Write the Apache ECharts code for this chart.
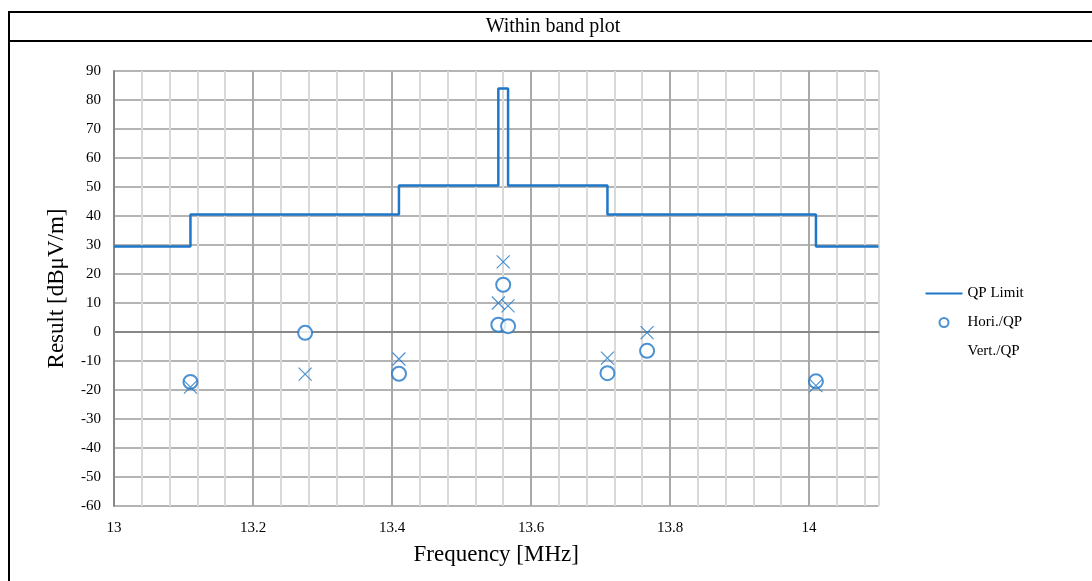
<!DOCTYPE html>
<html>
<head>
<meta charset="utf-8">
<script src="https://cdn.jsdelivr.net/npm/echarts@6/dist/echarts.min.js"></script>
<style>
  html, body { margin: 0; padding: 0; background: #fff; }
  #main { width: 1092px; height: 581px; }
</style>
</head>
<body>
<div id="main"></div>
<script>
// QP limit (step changes at these frequencies)
var limitFreq  = [13.0, 13.11, 13.41, 13.553, 13.567, 13.71, 14.01, 14.1];
var limitLevel = [29.5, 40.5, 50.5, 84.0, 50.5, 40.5, 29.5, 29.5];

// measured points
var horiFreq  = [13.11, 13.275, 13.41, 13.553, 13.56, 13.567, 13.71, 13.767, 14.01];
var horiLevel = [-17.2, -0.3, -14.4, 2.5, 16.3, 2.0, -14.2, -6.5, -17.0];
var vertFreq  = [13.11, 13.275, 13.41, 13.553, 13.56, 13.567, 13.71, 13.767, 14.01];
var vertLevel = [-19.0, -14.5, -9.3, 10.0, 24.2, 9.0, -9.0, -0.2, -18.5];

var blue = '#1f77c8';
var serif = '"Liberation Serif", "Times New Roman", serif';

function pairs(xs, ys) {
  var out = [];
  for (var i = 0; i < xs.length; i++) out.push([xs[i], ys[i]]);
  return out;
}

var crossPath = 'path://M0,0L10,10M10,0L0,10';

var chart = echarts.init(document.getElementById('main'));
var option = {
  animation: false,
  backgroundColor: '#fff',
  textStyle: { fontFamily: serif },
  graphic: [
    { type: 'line', shape: { x1: 9, y1: 12, x2: 1092, y2: 12 }, style: { stroke: '#000', lineWidth: 2 } },
    { type: 'line', shape: { x1: 9, y1: 41, x2: 1092, y2: 41 }, style: { stroke: '#000', lineWidth: 2 } },
    { type: 'line', shape: { x1: 9, y1: 11, x2: 9, y2: 581 }, style: { stroke: '#000', lineWidth: 2 } },
    {
      type: 'text', x: 553, y: 27,
      style: { text: 'Within band plot', font: '20px ' + serif, fill: '#000', align: 'center', verticalAlign: 'middle' }
    }
  ],
  grid: { left: 114, top: 71, right: 213.5, bottom: 75, containLabel: false },
  legend: {
    orient: 'vertical',
    left: 918,
    top: 281,
    itemWidth: 37,
    itemHeight: 9,
    itemGap: 14,
    textStyle: { fontFamily: serif, fontSize: 15, color: '#000' },
    data: [
      { name: 'QP Limit', itemStyle: { opacity: 0 } },
      { name: 'Hori./QP', icon: 'emptyCircle' },
      { name: 'Vert./QP', icon: 'rect', itemStyle: { opacity: 0 } }
    ]
  },
  xAxis: {
    type: 'value',
    min: 13,
    max: 14.1,
    interval: 0.04,
    name: 'Frequency [MHz]',
    nameLocation: 'middle',
    nameGap: 37,
    nameTextStyle: { fontFamily: serif, fontSize: 23, color: '#000' },
    axisLine: { show: true, lineStyle: { color: '#878787', width: 2 } },
    axisTick: { show: false },
    axisLabel: {
      margin: 15,
      fontFamily: serif, fontSize: 15, color: '#000',
      showMaxLabel: false,
      formatter: function (v) {
        var k = Math.round(v * 100);
        if (k % 20 !== 0) return '';
        return String(+v.toFixed(1));
      }
    },
    splitLine: {
      show: true,
      lineStyle: { color: ['#a9a9a9', '#d9d9d9', '#d9d9d9', '#d9d9d9', '#d9d9d9'], width: 2 }
    }
  },
  yAxis: {
    type: 'value',
    min: -60,
    max: 90,
    interval: 10,
    name: 'Result [dBμV/m]',
    nameLocation: 'middle',
    nameGap: 46,
    nameTextStyle: { fontFamily: serif, fontSize: 23, color: '#000' },
    axisLine: { show: true, lineStyle: { color: '#878787', width: 2 } },
    axisTick: { show: false },
    axisLabel: { margin: 13, fontFamily: serif, fontSize: 15, color: '#000' },
    splitLine: { show: true, lineStyle: { color: '#b4b4b4', width: 2 } }
  },
  series: [
    {
      name: 'QP Limit',
      type: 'line',
      step: 'end',
      symbol: 'none',
      data: pairs(limitFreq, limitLevel),
      lineStyle: { color: blue, width: 2.5 },
      itemStyle: { color: blue },
      z: 3
    },
    {
      name: 'Hori./QP',
      type: 'scatter',
      symbol: 'emptyCircle',
      symbolSize: 14,
      data: pairs(horiFreq, horiLevel),
      itemStyle: { color: blue, borderColor: blue, borderWidth: 1.2 },
      z: 4
    },
    {
      name: 'Vert./QP',
      type: 'scatter',
      symbol: crossPath,
      symbolSize: 13,
      data: pairs(vertFreq, vertLevel),
      itemStyle: { color: 'none', borderColor: blue, borderWidth: 1.2 },
      z: 4
    }
  ]
};
chart.setOption(option);
</script>
</body>
</html>
